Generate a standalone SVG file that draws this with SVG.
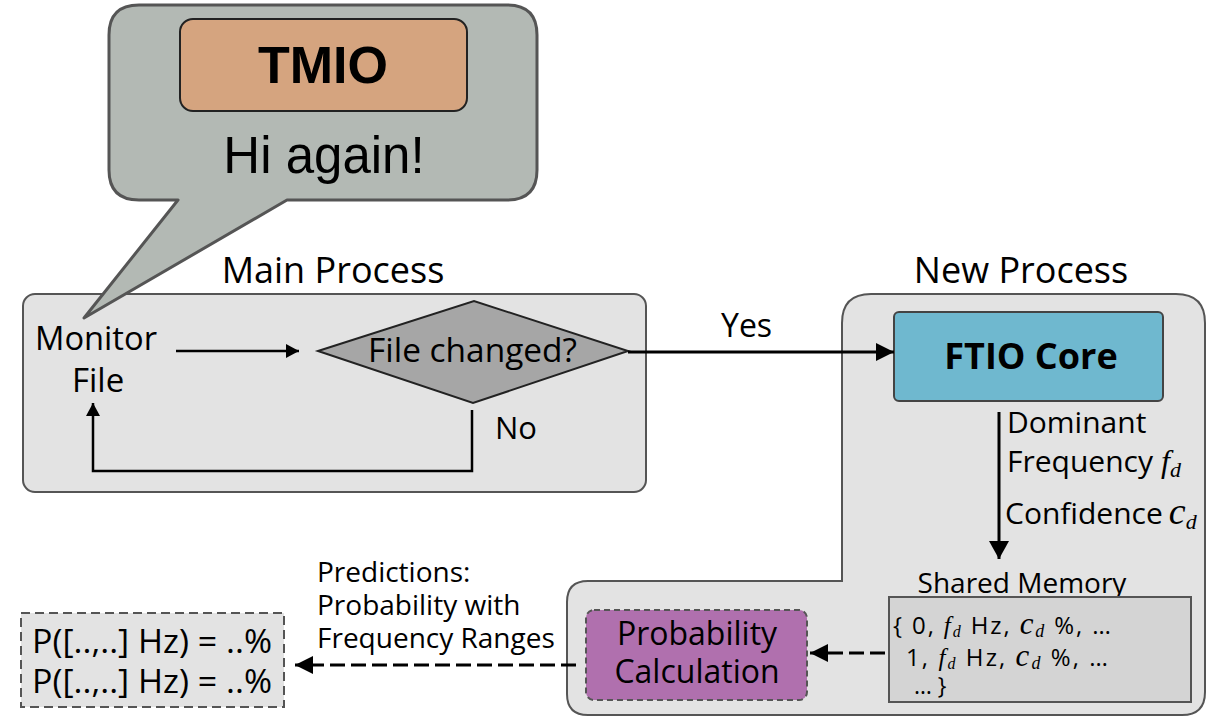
<svg xmlns="http://www.w3.org/2000/svg" width="1212" height="717" viewBox="0 0 1212 717">
<defs>
<style>
.t{font-family:"Open Sans","Noto Sans",sans-serif;fill:#000}
.a{font-family:"Liberation Sans",Arial,sans-serif;fill:#000}
.m{font-family:"Liberation Serif","Times New Roman",serif;font-style:italic;fill:#000}
.ln{fill:none;stroke:#000;stroke-width:2.5}
.lb{fill:none;stroke:#000;stroke-width:3}
.dl{fill:none;stroke:#000;stroke-width:3;stroke-dasharray:15 6}
.box{stroke:#555;stroke-width:2}
</style>
<marker id="ahs" viewBox="0 0 13 14" refX="13" refY="7" markerWidth="13" markerHeight="14" markerUnits="userSpaceOnUse" orient="auto">
<path d="M0,0 L13,7 L0,14 z" fill="#000"/>
</marker>
<marker id="ahl" viewBox="0 0 18 18" refX="18" refY="9" markerWidth="18" markerHeight="18" markerUnits="userSpaceOnUse" orient="auto">
<path d="M0,0 L18,9 L0,18 z" fill="#000"/>
</marker>
<marker id="ahd" viewBox="0 0 18 20" refX="18" refY="10" markerWidth="18" markerHeight="20" markerUnits="userSpaceOnUse" orient="auto">
<path d="M0,0 L18,10 L0,20 z" fill="#000"/>
</marker>
</defs>
<rect width="1212" height="717" fill="#fff"/>

<g id="main-process">
<rect x="23" y="294" width="623" height="198" rx="12" fill="#e3e3e3" class="box"/>
<text class="t" x="333" y="283" font-size="36" text-anchor="middle">Main Process</text>
</g>

<g id="new-process">
<path d="M842,323 Q842,294 871,294 L1176,294 Q1205,294 1205,323 L1205,692 Q1205,715 1182,715 L588,715 Q567,715 567,694 L567,602 Q567,581 588,581 L842,581 Z" fill="#e3e3e3" class="box"/>
<text class="t" x="1021" y="283" font-size="36" text-anchor="middle">New Process</text>
</g>

<g id="bubble">
<path d="M139,5 L507,5 Q537,5 537,35 L537,170 Q537,200 507,200 L287,200 L84,318 L178,200 L139,200 Q109,200 109,170 L109,35 Q109,5 139,5 Z" fill="#b3b9b4" stroke="#555" stroke-width="3" stroke-linejoin="round"/>
</g>

<g id="tmio">
<rect x="180" y="19" width="287" height="92" rx="13" fill="#d5a47f" stroke="#222" stroke-width="2"/>
<text class="a" x="323" y="83" font-size="52" font-weight="bold" text-anchor="middle">TMIO</text>
<text class="a" x="324" y="173" font-size="51" text-anchor="middle">Hi again!</text>
</g>

<g id="monitor-file">
<text class="t" x="35" y="350" font-size="33" textLength="122" lengthAdjust="spacingAndGlyphs">Monitor</text>
<text class="t" x="72" y="392" font-size="33">File</text>
</g>

<g id="decision">
<polygon points="318,351 474,301 628,351 473,403" fill="#a6a6a6" stroke="#222" stroke-width="2"/>
<text class="t" x="368" y="362" font-size="32" textLength="209" lengthAdjust="spacingAndGlyphs">File changed?</text>
</g>

<g id="ftio-core">
<rect x="894" y="312" width="269" height="89" rx="5" fill="#6fb8cf" stroke="#444" stroke-width="2"/>
<text class="t" x="1031" y="369" font-size="36" font-weight="bold" text-anchor="middle">FTIO Core</text>
</g>

<g id="shared-memory">
<text class="t" x="1022" y="593" font-size="28" text-anchor="middle">Shared Memory</text>
<rect x="889" y="597" width="302" height="105" fill="#d4d4d4" class="box"/>
<text class="t" x="893" y="634" font-size="24" textLength="218">{ 0, <tspan class="m" font-size="25">f</tspan><tspan class="m" font-size="16" dy="3">d</tspan><tspan dy="-3"> Hz, </tspan><tspan class="m" font-size="31">c</tspan><tspan class="m" font-size="18" dy="3">d</tspan><tspan dy="-3">  %, …</tspan></text>
<text class="t" x="906" y="666" font-size="24" textLength="202">1, <tspan class="m" font-size="25">f</tspan><tspan class="m" font-size="16" dy="3">d</tspan><tspan dy="-3"> Hz, </tspan><tspan class="m" font-size="31">c</tspan><tspan class="m" font-size="18" dy="3">d</tspan><tspan dy="-3"> %, …</tspan></text>
<text class="t" x="914" y="694" font-size="23">… }</text>
</g>

<g id="probability-calculation">
<rect x="586" y="610" width="221" height="90" rx="8" fill="#b070ae" stroke="#555" stroke-width="2" stroke-dasharray="6 4"/>
<text class="t" x="697" y="645" font-size="32" text-anchor="middle">Probability</text>
<text class="t" x="697" y="683" font-size="32" text-anchor="middle">Calculation</text>
</g>

<g id="output">
<rect x="21" y="613" width="263" height="94" fill="#e3e3e3" stroke="#555" stroke-width="2" stroke-dasharray="9 5"/>
<text class="t" x="32" y="653" font-size="32" textLength="240" lengthAdjust="spacingAndGlyphs">P([..,..] Hz) = ..%</text>
<text class="t" x="32" y="693" font-size="32" textLength="240" lengthAdjust="spacingAndGlyphs">P([..,..] Hz) = ..%</text>
</g>

<g id="connectors">
<line x1="176" y1="351" x2="299" y2="351" class="ln" marker-end="url(#ahs)"/>
<polyline points="472,410 472,471 93,471 93,403" class="ln" marker-end="url(#ahs)"/>
<line x1="628" y1="352" x2="894" y2="352" class="lb" marker-end="url(#ahl)"/>
<line x1="999" y1="412" x2="999" y2="559" class="lb" marker-end="url(#ahd)"/>
<line x1="885" y1="653" x2="810" y2="653" class="dl" marker-end="url(#ahl)"/>
<line x1="576" y1="665" x2="295" y2="665" class="dl" marker-end="url(#ahl)"/>
</g>

<g id="labels">
<text class="t" x="721" y="337" font-size="32">Yes</text>
<text class="t" x="495" y="439" font-size="31">No</text>
<text class="t" x="1007" y="433" font-size="30">Dominant</text>
<text class="t" x="1007" y="472" font-size="30">Frequency<tspan class="m" font-size="32" dx="8">f</tspan><tspan class="m" font-size="22" dy="5">d</tspan></text>
<text class="t" x="1005" y="524" font-size="30">Confidence<tspan class="m" font-size="38" dx="6">c</tspan><tspan class="m" font-size="22" dy="5">d</tspan></text>
<text class="t" x="317" y="582" font-size="28">Predictions:</text>
<text class="t" x="317" y="615" font-size="28">Probability with</text>
<text class="t" x="317" y="648" font-size="28">Frequency Ranges</text>
</g>
</svg>
